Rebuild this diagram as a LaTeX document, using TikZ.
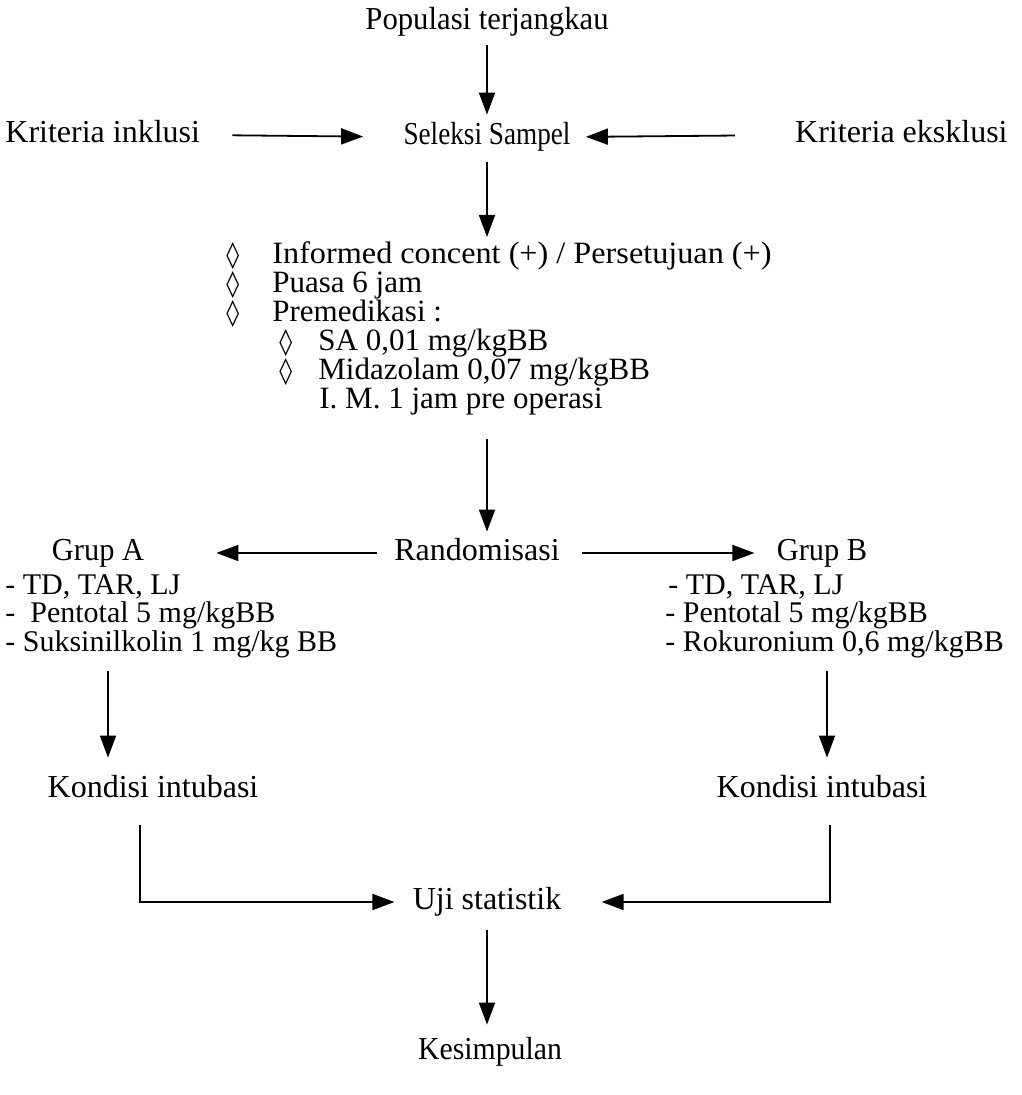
\documentclass[tikz,border=0pt]{standalone}
\usepackage{graphicx}
\usepackage{fontspec}
\setmainfont{Liberation Serif}
\newfontfamily\symf{DejaVu Sans}
\usetikzlibrary{arrows.meta}
\newcommand{\dmd}{{\symf\fontsize{13}{14.5}\selectfont ◊}}
\newcommand{\hs}[2]{\scalebox{#1}[1]{#2}}
\begin{document}
\begin{tikzpicture}[x=0.5pt,y=-0.5pt,
  txt/.style={inner sep=0pt, text height=11pt, text depth=3.5pt, font=\fontsize{16}{14.5}\selectfont},
  blk/.style={inner sep=0pt, align=left, font=\fontsize{15.5}{14.5}\selectfont},
  grp/.style={inner sep=0pt, align=left, font=\fontsize{15}{14.25}\selectfont},
  arr/.style={-{Triangle[length=11pt,width=8pt]}, line width=0.9pt}]
\useasboundingbox (0,0) rectangle (1021,1095);
% nodes
\node[txt] (pop) at (487,22) {\hs{0.96}{Populasi terjangkau}};
\node[txt] (sel) at (487,137) {\hs{0.85}{Seleksi Sampel}};
\node[txt,anchor=west] (inkl) at (5,135) {Kriteria inklusi};
\node[txt,anchor=east] (eksk) at (1008,135) {Kriteria eksklusi};
\node[blk,anchor=north west] (list) at (226,241) {%
\makebox[23pt][l]{\dmd}\hs{1.04}{Informed concent (+) / Persetujuan (+)}\\
\makebox[23pt][l]{\dmd}Puasa 6 jam\\
\makebox[23pt][l]{\dmd}Premedikasi :\\
\hspace*{26.5pt}\makebox[19.5pt][l]{\dmd}SA 0,01 mg/kgBB\\
\hspace*{26.5pt}\makebox[19.5pt][l]{\dmd}Midazolam 0,07 mg/kgBB\\
\hspace*{46.5pt}I. M. 1 jam pre operasi};
\node[txt] (rand) at (477,553) {Randomisasi};
\node[txt] (grpA) at (98,553) {\hs{0.95}{Grup A}};
\node[txt] (grpB) at (822,553) {\hs{0.95}{Grup B}};
\node[grp,anchor=north west] (listA) at (5,574) {- TD, TAR, LJ\\-\ \ Pentotal 5 mg/kgBB\\- Suksinilkolin 1 mg/kg BB};
\node[grp,anchor=north west] (listB) at (665,574) {\hspace*{1.5pt}- TD, TAR, LJ\\- Pentotal 5 mg/kgBB\\- Rokuronium 0,6 mg/kgBB};
\node[txt] (kondA) at (153,790) {Kondisi intubasi};
\node[txt] (kondB) at (822,790) {Kondisi intubasi};
\node[txt] (uji) at (487,902) {Uji statistik};
\node[txt] (kes) at (490,1052) {\hs{0.93}{Kesimpulan}};
\coordinate (xA) at (140,0);
\coordinate (xB) at (830,0);
\coordinate (dA) at (108,0);
\coordinate (dB) at (827,0);
% connectors
\draw[arr, shorten <=4.25pt, shorten >=3.75pt] (pop.south) -- (sel.north);
\draw[arr, shorten <=16pt, shorten >=20pt] (inkl.east) -- (sel.west);
\draw[arr, shorten <=30pt, shorten >=7.5pt] (eksk.west) -- (sel.east);
\draw[arr, shorten <=5.25pt, shorten >=2pt] (sel.south) -- (list.north -| sel.south);
\draw[arr, shorten <=11.75pt, shorten >=3.25pt] (list.south -| sel.south) -- (rand.north -| sel.south);
\draw[arr, shorten <=8.5pt, shorten >=36pt] (rand.west) -- (grpA.east);
\draw[arr, shorten <=11pt, shorten >=11pt] (rand.east) -- (grpB.west);
\draw[arr, shorten <=6.5pt, shorten >=8.75pt] (listA.south -| dA) -- (kondA.north -| dA);
\draw[arr, shorten <=6.5pt, shorten >=8.75pt] (listB.south -| dB) -- (kondB.north -| dB);
\draw[arr, shorten <=10pt, shorten >=9pt] (kondA.south -| xA) |- (uji.west);
\draw[arr, shorten <=10pt, shorten >=20pt] (kondB.south -| xB) |- (uji.east);
\draw[arr, shorten <=6.75pt, shorten >=6.25pt] (uji.south) -- (kes.north -| uji.south);
\end{tikzpicture}
\end{document}
